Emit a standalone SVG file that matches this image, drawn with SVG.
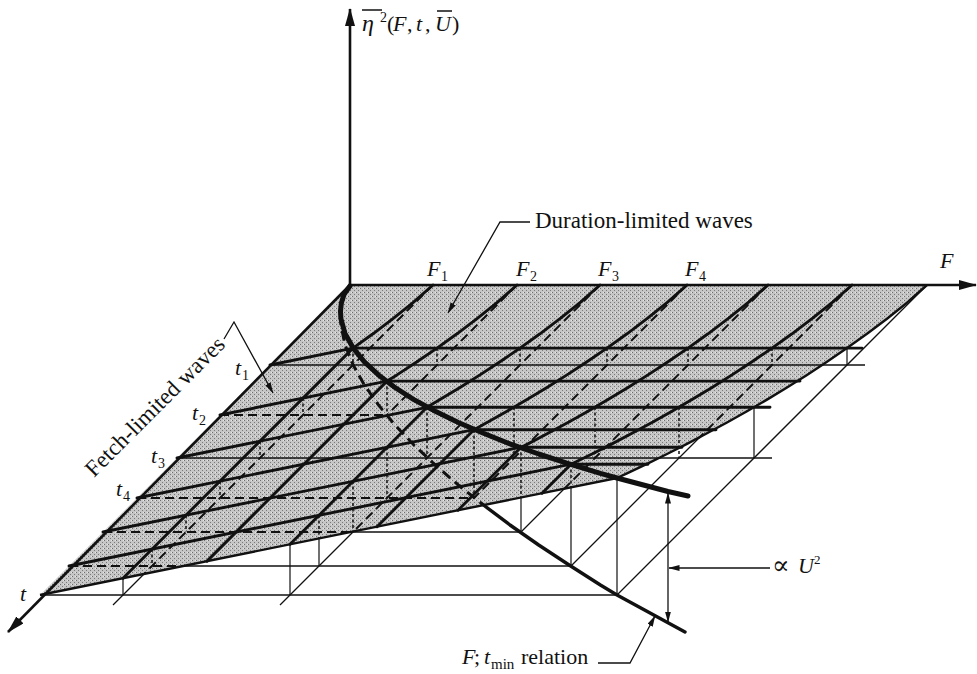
<svg xmlns="http://www.w3.org/2000/svg" width="977" height="674" viewBox="0 0 977 674">
<defs>
<style>
.ax{stroke:#111;stroke-width:2.6;fill:none}
.edge{stroke:#111;stroke-width:2.4;fill:none;stroke-linejoin:round}
.grid{stroke:#111;stroke-width:2.9;fill:none;stroke-linejoin:round;stroke-linecap:round}
.bold{stroke:#111;stroke-width:5;fill:none;stroke-linecap:round;stroke-linejoin:round}
.bdash{stroke:#111;stroke-width:2;stroke-dasharray:9 5;fill:none}
.bthin{stroke:#111;stroke-width:1.3;fill:none}
.ddash{stroke:#111;stroke-width:1.5;stroke-dasharray:3 2.5;fill:none}
.dthin{stroke:#111;stroke-width:1.2;fill:none}
.fdash{stroke:#111;stroke-width:3;stroke-dasharray:10 6;fill:none;stroke-linejoin:round}
.lead{stroke:#111;stroke-width:1.3;fill:none}
text{font-family:"Liberation Serif","DejaVu Serif",serif;fill:#111}
.it{font-style:italic}
</style>
<pattern id="stip" width="4" height="4" patternUnits="userSpaceOnUse">
<rect width="4" height="4" fill="#c6c6c6"/>
<rect x="0" y="0" width="1" height="1" fill="#6e6e6e"/>
<rect x="2" y="2" width="1" height="1" fill="#7a7a7a"/>
<rect x="3" y="0" width="1" height="1" fill="#e6e6e6"/>
</pattern>
<marker id="axArrow" viewBox="0 0 18 10" refX="17" refY="5" markerWidth="18" markerHeight="10" markerUnits="userSpaceOnUse" orient="auto"><path d="M0,0 L18,5 L0,10 z" fill="#111"/></marker>
<marker id="sArrow" viewBox="0 0 11 6" refX="10.5" refY="3" markerWidth="11" markerHeight="6" markerUnits="userSpaceOnUse" orient="auto-start-reverse"><path d="M0,0 L11,3 L0,6 z" fill="#111"/></marker>
</defs>
<rect width="977" height="674" fill="#fff"/>

<g id="surface">
<path d="M350,285 L927,285 L907,302.7 L887,318.7 L867,333.8 L847,348.1 L827,361.8 L807,374.9 L787,387.5 L767,399.6 L747,411.2 L727,422.5 L707,433.3 L687,443.9 L667,454 L647,463.8 L627,473.4 L617,478 L40,595 Z" fill="url(#stip)"/>
</g>

<g id="base-grid">
<line class="bthin" x1="270" y1="365" x2="865" y2="365"/>
<line class="bdash" x1="220" y1="415" x2="387" y2="415"/>
<line class="bthin" x1="177" y1="458" x2="772" y2="458"/>
<line class="bdash" x1="137" y1="498" x2="474" y2="498"/>
<line class="bdash" x1="103" y1="532" x2="351" y2="532"/>
<line class="bthin" x1="351" y1="532" x2="521" y2="532"/>
<line class="bdash" x1="69" y1="566" x2="183" y2="566"/>
<line class="bthin" x1="183" y1="566" x2="571" y2="566"/>
<line class="bthin" x1="40" y1="595" x2="617" y2="595"/>
<line class="bdash" x1="433" y1="285" x2="144" y2="574"/>
<line class="bthin" x1="144" y1="574" x2="113" y2="605"/>
<line class="bdash" x1="517" y1="285" x2="387" y2="415"/>
<line class="bdash" x1="600" y1="285" x2="354" y2="531"/>
<line class="bthin" x1="354" y1="531" x2="280" y2="605"/>
<line class="bdash" x1="687" y1="285" x2="474" y2="498"/>
<line class="bdash" x1="768" y1="285" x2="564" y2="489"/>
<line class="bthin" x1="564" y1="489" x2="521" y2="532"/>
<line class="bdash" x1="852" y1="285" x2="699" y2="438"/>
<line class="bthin" x1="699" y1="438" x2="571" y2="566"/>
<line class="bthin" x1="927" y1="285" x2="617" y2="595"/>
</g>

<g id="drops">
<line class="ddash" x1="353" y1="348" x2="353" y2="365"/>
<line class="ddash" x1="437" y1="348" x2="437" y2="365"/>
<line class="ddash" x1="520" y1="348" x2="520" y2="365"/>
<line class="ddash" x1="607" y1="348" x2="607" y2="365"/>
<line class="ddash" x1="688" y1="348" x2="688" y2="365"/>
<line class="ddash" x1="772" y1="348" x2="772" y2="365"/>
<line class="ddash" x1="303" y1="398" x2="303" y2="415"/>
<line class="ddash" x1="387" y1="381" x2="387" y2="415"/>
<line class="ddash" x1="260" y1="441" x2="260" y2="458"/>
<line class="ddash" x1="427" y1="407" x2="427" y2="458"/>
<line class="ddash" x1="514" y1="407" x2="514" y2="458"/>
<line class="ddash" x1="595" y1="407" x2="595" y2="458"/>
<line class="ddash" x1="679" y1="407" x2="679" y2="458"/>
<line class="ddash" x1="220" y1="481" x2="220" y2="498"/>
<line class="ddash" x1="387" y1="447" x2="387" y2="498"/>
<line class="ddash" x1="474" y1="430" x2="474" y2="498"/>
<line class="ddash" x1="186" y1="515" x2="186" y2="532"/>
<line class="ddash" x1="353" y1="481" x2="353" y2="532"/>
<line class="ddash" x1="521" y1="447" x2="521" y2="497"/>
<line class="ddash" x1="152" y1="549" x2="152" y2="566"/>
<line class="ddash" x1="319" y1="515" x2="319" y2="538"/>
<line class="ddash" x1="571" y1="464" x2="571" y2="487"/>
<line class="dthin" x1="847" y1="348" x2="847" y2="365"/>
<line class="dthin" x1="754" y1="407" x2="754" y2="458"/>
<line class="dthin" x1="521" y1="497" x2="521" y2="532"/>
<line class="dthin" x1="319" y1="538" x2="319" y2="566"/>
<line class="dthin" x1="571" y1="487" x2="571" y2="566"/>
<line class="dthin" x1="123" y1="578" x2="123" y2="595"/>
<line class="dthin" x1="290" y1="544" x2="290" y2="595"/>
<line class="dthin" x1="617" y1="478" x2="617" y2="595"/>
</g>

<g id="surface-grid">
<polyline class="grid" points="433,285 413,302.7 393,318.7 373,333.8 353,348.1 123,578.2"/>
<polyline class="grid" points="517,285 497,302.7 477,318.7 457,333.8 437,348.1 417,361.8 397,374.9 387,381.1 207,561.1"/>
<polyline class="grid" points="600,285 580,302.7 560,318.7 540,333.8 520,348.1 500,361.8 480,374.9 460,387.5 440,399.6 427,407.3 290,544.3"/>
<polyline class="grid" points="687,285 667,302.7 647,318.7 627,333.8 607,348.1 587,361.8 567,374.9 547,387.5 527,399.6 507,411.2 487,422.5 474,429.7 377,526.7"/>
<polyline class="grid" points="768,285 748,302.7 728,318.7 708,333.8 688,348.1 668,361.8 648,374.9 628,387.5 608,399.6 588,411.2 568,422.5 548,433.3 528,443.9 521,447.2 458,510.2"/>
<polyline class="grid" points="852,285 832,302.7 812,318.7 792,333.8 772,348.1 752,361.8 732,374.9 712,387.5 692,399.6 672,411.2 652,422.5 632,433.3 612,443.9 592,454 572,463.8 571,464.2 542,493.2"/>
<polyline class="grid" points="270,365 353,348.1 862,348.1"/>
<polyline class="grid" points="220,415 387,381.1 800,381.1"/>
<polyline class="grid" points="177,458 427,407.3 770,407.3"/>
<polyline class="grid" points="137,498 474,429.7 716,429.7"/>
<polyline class="grid" points="103,532 521,447.2 682,447.2"/>
<polyline class="grid" points="69,566 571,464.2 648,464.2"/>
</g>

<g id="surface-edges">
<polyline class="edge" points="927,285 907,302.7 887,318.7 867,333.8 847,348.1 827,361.8 807,374.9 787,387.5 767,399.6 747,411.2 727,422.5 707,433.3 687,443.9 667,454 647,463.8 627,473.4 617,478"/>
<line class="edge" x1="617" y1="478" x2="40" y2="595"/>
</g>

<g id="fmin-relation">
<polyline class="fdash" points="350,285 344.2,295 341.4,305 340.5,315 340.9,325 345.1,345 353.2,365 364.4,385 378.5,405 395,425 413.9,445 435.3,465 458.3,485 483.5,505"/>
<polyline class="bold" style="stroke-width:3.4" points="483.5,505 510,525 538.7,545 569.1,565 600.4,585 617,595 685,632"/>
</g>

<g id="limit-curve">
<polyline class="bold" points="350,286 344.2,294.1 341.4,302.7 340.5,310.9 340.9,318.7 345.1,333.8 353.2,348.1 364.4,361.8 378.5,374.9 395,387.5 413.9,399.6 435.3,411.2 458.3,422.5 483.5,433.3 510,443.9 538.7,454 569.1,463.8 600.4,473.4 617,478 668,491.5 688,496"/>
</g>

<g id="axes">
<line class="ax" x1="350" y1="286" x2="350" y2="9" marker-end="url(#axArrow)"/>
<line class="ax" x1="349" y1="285" x2="976" y2="285" marker-end="url(#axArrow)"/>
<line class="ax" x1="351" y1="284" x2="8" y2="632" marker-end="url(#axArrow)"/>
</g>

<g id="connectors">
<polyline class="lead" points="530,222 500,222 448,313" marker-end="url(#sArrow)"/>
<polyline class="lead" points="224,339 234,322 273,393" marker-end="url(#sArrow)"/>
<line class="lead" x1="668" y1="493" x2="668" y2="622" marker-start="url(#sArrow)" marker-end="url(#sArrow)"/>
<line class="lead" x1="770" y1="568" x2="669" y2="568" marker-end="url(#sArrow)"/>
<polyline class="lead" points="598,663 630,663 655,616" marker-end="url(#sArrow)"/>
</g>

<g id="labels">
<line x1="362" y1="10" x2="382" y2="10" stroke="#111" stroke-width="1.5"/>
<line x1="437" y1="11" x2="452" y2="11" stroke="#111" stroke-width="1.5"/>
<text x="362" y="31" font-size="24" class="it">η</text>
<text x="380" y="22" font-size="14">2</text>
<text y="31" font-size="22"><tspan x="387">(</tspan><tspan x="393" class="it">F</tspan><tspan x="407">,</tspan><tspan x="416" class="it">t</tspan><tspan x="425">,</tspan><tspan x="435" class="it">U</tspan><tspan x="452">)</tspan></text>

<text x="535" y="228" font-size="23">Duration-limited waves</text>
<text x="94" y="478" font-size="23" transform="rotate(-45 94 478)">Fetch-limited waves</text>

<text x="427" y="276" font-size="22" class="it">F</text><text x="441" y="281" font-size="14">1</text>
<text x="516" y="276" font-size="22" class="it">F</text><text x="530" y="281" font-size="14">2</text>
<text x="598" y="276" font-size="22" class="it">F</text><text x="612" y="281" font-size="14">3</text>
<text x="685" y="276" font-size="22" class="it">F</text><text x="699" y="281" font-size="14">4</text>
<text x="940" y="268" font-size="22" class="it">F</text>

<text x="235" y="375" font-size="22" class="it">t</text><text x="242" y="380" font-size="14">1</text>
<text x="192" y="420" font-size="22" class="it">t</text><text x="199" y="425" font-size="14">2</text>
<text x="151" y="463" font-size="22" class="it">t</text><text x="158" y="468" font-size="14">3</text>
<text x="116" y="496" font-size="22" class="it">t</text><text x="123" y="501" font-size="14">4</text>
<text x="20" y="601" font-size="22" class="it">t</text>

<text x="772" y="574" font-size="26">∝</text>
<text x="798" y="573" font-size="22" class="it">U</text>
<text x="814" y="564" font-size="13">2</text>

<text y="664" font-size="22"><tspan x="462" class="it">F</tspan><tspan x="474">;</tspan><tspan x="484" class="it">t</tspan><tspan x="491" y="669" font-size="15">min</tspan><tspan x="521" y="664">relation</tspan></text>
</g>
</svg>
